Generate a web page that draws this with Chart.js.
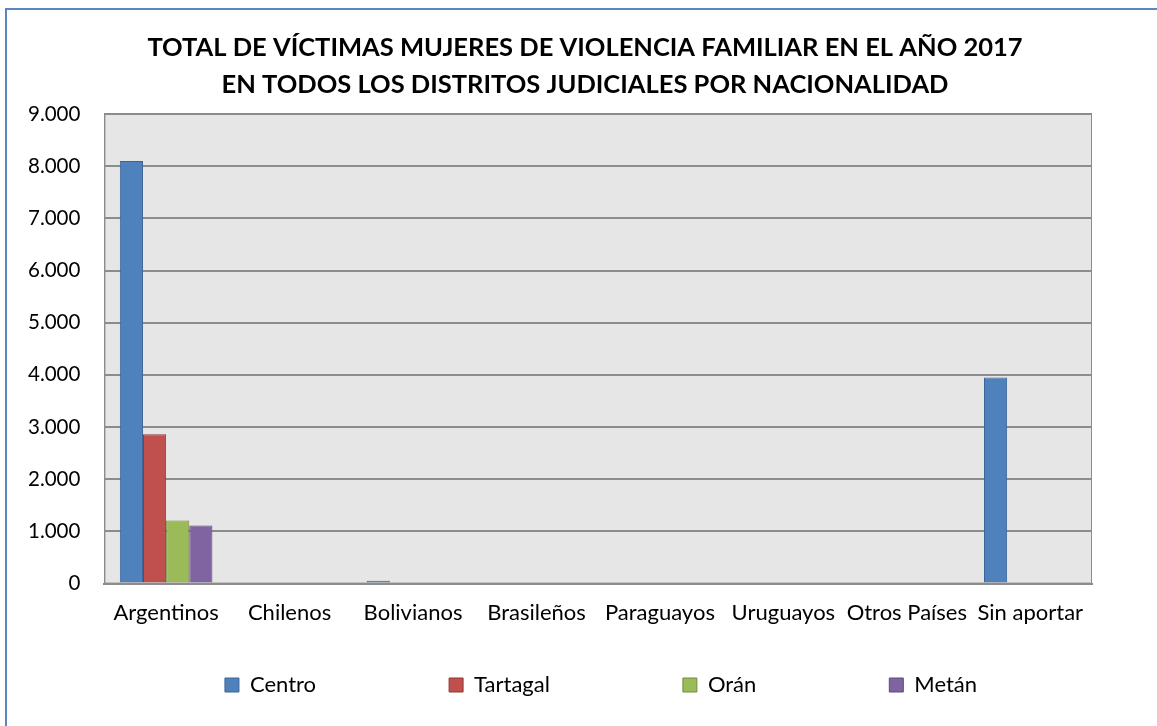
<!DOCTYPE html>
<html>
<head>
<meta charset="utf-8">
<script src="https://cdn.jsdelivr.net/npm/chart.js@4/dist/chart.umd.min.js"></script>
<style>
  html, body { margin: 0; padding: 0; overflow: hidden; background: #fff; }
  #frame {
    position: absolute; left: 5px; top: 8px; width: 1170px; height: 740px;
    border: 2px solid #5a86c3; box-sizing: border-box;
  }
  #wrap { position: absolute; left: 0; top: 0; width: 1157px; height: 726px; }
</style>
</head>
<body>
<div id="frame"></div>
<div id="wrap"><canvas id="chart"></canvas></div>
<script>
// categories and series
var categories = ['Argentinos', 'Chilenos', 'Bolivianos', 'Brasileños', 'Paraguayos', 'Uruguayos', 'Otros Países', 'Sin aportar'];
var centro   = [8100, 20, 55, 0, 20, 0, 20, 3950];
var tartagal = [2860, 0, 0, 0, 0, 0, 0, 0];
var oran     = [1210, 0, 20, 0, 0, 0, 0, 0];
var metan    = [1115, 0, 20, 0, 0, 0, 20, 0];
var yTicks = [0, 1000, 2000, 3000, 4000, 5000, 6000, 7000, 8000, 9000];

function fmt(v) {
    return v.toString().replace(/\B(?=(\d{3})+(?!\d))/g, '.');
}

// gray plot background with border
var plotBg = {
    id: 'plotBg',
    beforeDraw: function (chart) {
        var a = chart.chartArea, ctx = chart.ctx;
        ctx.save();
        ctx.fillStyle = '#e6e6e6';
        ctx.fillRect(a.left, a.top, a.right - a.left, a.bottom - a.top);
        ctx.restore();
    },
    afterDatasetsDraw: function (chart) {
        var a = chart.chartArea, ctx = chart.ctx;
        ctx.save();
        ctx.strokeStyle = '#8c8c8c';
        ctx.lineWidth = 1;
        ctx.strokeRect(a.left + 0.5, a.top + 0.5, a.right - a.left - 1, a.bottom - a.top - 1);
        ctx.restore();
    }
};

// the legend uses a wide gap between items, so move its box where the items belong;
// the title is centred a bit right of the canvas middle, as in the picture
var boxPlace = {
    id: 'boxPlace',
    afterLayout: function (chart) {
        var lg = chart.legend;
        var pad = lg.options.labels.padding;
        var dx = 601 - (lg.left + lg.right) / 2;
        lg.left += dx;
        lg.right += dx;
        lg.top = 685 - 11 - pad;
        lg.bottom = lg.top + pad + 40;
        lg.height = lg.bottom - lg.top;

        var tb = chart.titleBlock;
        var tx = 585 - (tb.left + tb.right) / 2;
        tb.left += tx;
        tb.right += tx;
    }
};

function ds(label, data, bg, border) {
    return {
        label: label, data: data, backgroundColor: bg, borderColor: border,
        borderWidth: 1, categoryPercentage: 0.75, barPercentage: 1.0
    };
}

document.addEventListener('DOMContentLoaded', function () {
    var ctx = document.getElementById('chart').getContext('2d');
    Chart.defaults.font.family = 'Lato, "Open Sans", sans-serif';
    Chart.defaults.color = '#000';
    new Chart(ctx, {
        type: 'bar',
        data: {
            labels: categories,
            datasets: [
                ds('Centro', centro, '#4f81bd', '#3a6496'),
                ds('Tartagal', tartagal, '#c0504d', '#8f3a38'),
                ds('Orán', oran, '#9bbb59', '#738c40'),
                ds('Metán', metan, '#8064a2', '#5f4a7a')
            ]
        },
        options: {
            responsive: true,
            maintainAspectRatio: false,
            animation: false,
            layout: { autoPadding: false, padding: { left: 4, right: 65, top: 0, bottom: 44 } },
            plugins: {
                title: {
                    display: true,
                    text: ['TOTAL DE VÍCTIMAS MUJERES DE VIOLENCIA FAMILIAR EN EL AÑO 2017',
                           'EN TODOS LOS DISTRITOS JUDICIALES POR NACIONALIDAD'],
                    font: { size: 25.5, weight: 'bold', lineHeight: 1.45 },
                    color: '#000',
                    padding: { top: 29, bottom: 11 }
                },
                legend: {
                    position: 'bottom',
                    maxHeight: 40,
                    labels: {
                        boxWidth: 14, boxHeight: 14, padding: 133,
                        font: { size: 22 },
                        generateLabels: function (chart) {
                            return chart.data.datasets.map(function (d, i) {
                                return {
                                    text: d.label, fillStyle: d.backgroundColor,
                                    strokeStyle: d.borderColor, lineWidth: 1,
                                    datasetIndex: i, hidden: false
                                };
                            });
                        }
                    }
                },
                tooltip: { enabled: false }
            },
            scales: {
                x: {
                    grid: { display: false, drawTicks: false },
                    border: { color: '#8c8c8c', width: 2 },
                    ticks: { font: { size: 22 }, padding: 16, maxRotation: 0, autoSkip: false }
                },
                y: {
                    min: 0, max: 9000,
                    afterBuildTicks: function (axis) {
                        axis.ticks = yTicks.map(function (v) { return { value: v }; });
                    },
                    grid: { color: '#8c8c8c', lineWidth: 2, drawTicks: false },
                    border: { color: '#8c8c8c', width: 1 },
                    ticks: {
                        font: { size: 20.5 }, padding: 24,
                        callback: function (v) { return fmt(v); }
                    }
                }
            }
        },
        plugins: [plotBg, boxPlace]
    });
});
</script>
</body>
</html>
